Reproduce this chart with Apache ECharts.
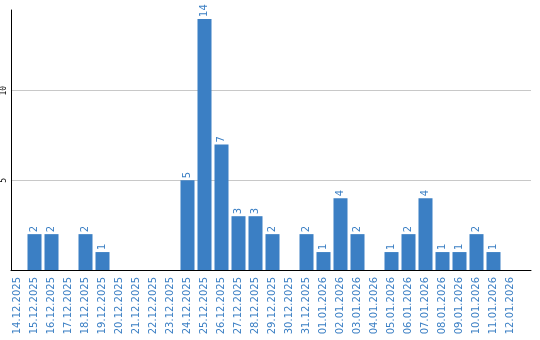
<!DOCTYPE html>
<html>
<head>
<meta charset="utf-8">
<script src="https://cdn.jsdelivr.net/npm/echarts@6/dist/echarts.min.js"></script>
<style>html,body{margin:0;padding:0;background:#fff}#c{width:540px;height:340px}</style>
</head>
<body>
<div id="c"></div>
<script>
var categories = ['14.12.2025','15.12.2025','16.12.2025','17.12.2025','18.12.2025','19.12.2025','20.12.2025','21.12.2025','22.12.2025','23.12.2025','24.12.2025','25.12.2025','26.12.2025','27.12.2025','28.12.2025','29.12.2025','30.12.2025','31.12.2025','01.01.2026','02.01.2026','03.01.2026','04.01.2026','05.01.2026','06.01.2026','07.01.2026','08.01.2026','09.01.2026','10.01.2026','11.01.2026','12.01.2026'];
var values = [0,2,2,0,2,1,0,0,0,0,5,14,7,3,3,2,0,2,1,4,2,0,1,2,4,1,1,2,1,0];
var yTicks = [5, 10];

var blue = '#3b7fc4';
var chart = echarts.init(document.getElementById('c'));
chart.setOption({
  animation: false,
  grid: [
    {left: 9, top: 10, width: 510, bottom: 70},
    {left: 10, top: 10, right: 9, bottom: 70}
  ],
  xAxis: [
    {gridIndex: 0, type: 'category', data: categories,
     axisLine: {show: false}, axisTick: {show: false},
     axisLabel: {interval: 0, rotate: 90, color: blue, fontSize: 10, fontFamily: 'DejaVu Sans', margin: 7}},
    {gridIndex: 1, type: 'value', min: 0, max: 1,
     axisLine: {show: true, lineStyle: {color: '#000', width: 1}}, axisTick: {show: false},
     axisLabel: {show: false}, splitLine: {show: false}}
  ],
  yAxis: [
    {gridIndex: 0, type: 'value', min: 0, max: 14.5, show: false, splitLine: {show: false}},
    {gridIndex: 1, type: 'value', min: 0, max: 14.5, interval: 5,
     axisLine: {show: true, lineStyle: {color: '#000', width: 1}}, axisTick: {show: false},
     splitLine: {show: true, showMaxLine: false, showMinLine: false, lineStyle: {color: '#c8c8c8', width: 1}},
     axisLabel: {rotate: 90, color: '#000', fontSize: 8, fontFamily: 'DejaVu Sans Mono', margin: 3,
       formatter: function (v) { return yTicks.indexOf(v) >= 0 ? String(v) : ''; }}}
  ],
  series: [{
    type: 'bar', xAxisIndex: 0, yAxisIndex: 0, data: values,
    barCategoryGap: '17.6%',
    itemStyle: {color: blue},
    label: {show: true, position: 'top', rotate: 90, align: 'left', verticalAlign: 'middle', distance: 2,
      color: blue, fontSize: 10, fontFamily: 'DejaVu Sans',
      formatter: function (p) { return p.value ? String(p.value) : ''; }}
  }]
});
</script>
</body>
</html>
